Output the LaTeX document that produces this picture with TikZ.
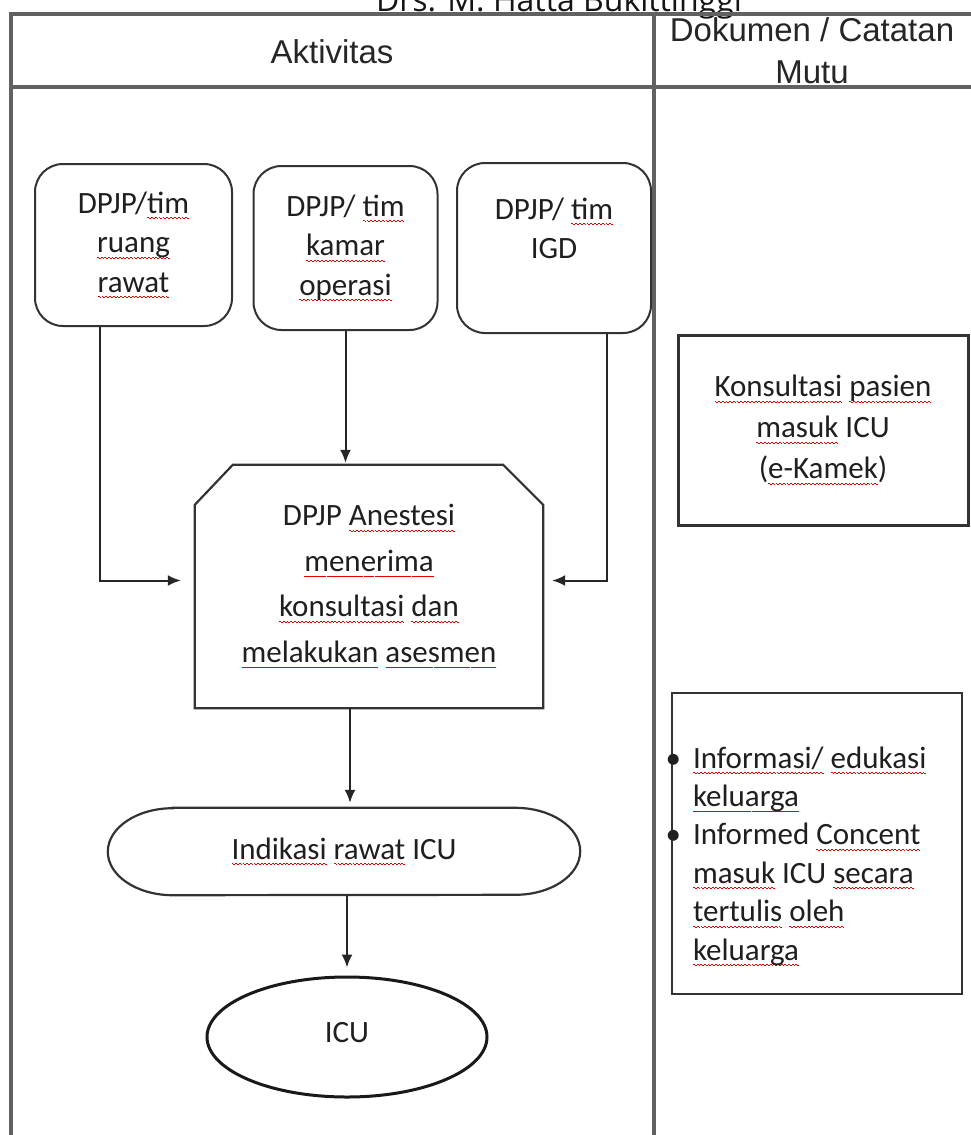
\documentclass[tikz,border=0pt]{standalone}
\usepackage{fontspec}
\setmainfont{Carlito}
\newfontfamily\arialf{Liberation Sans}
\newfontfamily\titlef{Open Sans}
\usetikzlibrary{arrows.meta,shapes.geometric}
\newcommand\sq[1]{\setbox0=\hbox{#1}\leavevmode\rlap{\raisebox{-6pt}{\color{red!90!black}\hbox to \wd0{\xleaders\hbox to 3.6pt{\vrule width 1.8pt height 1.9pt depth -0.8pt\vrule width 1.8pt height 1.1pt depth 0pt}\hfil}}}\box0\relax}
\newcommand\bul{\leavevmode\llap{\textbullet\hspace{12pt}}}
\begin{document}
\begin{tikzpicture}[x=1pt,y=-1pt,
  frame/.style={draw=black!62, line width=3.2pt},
  roundbox/.style={draw=black!80, line width=2pt, rounded corners=28pt, align=center,
    font=\fontsize{31}{39.5}\selectfont, text=black!88},
  shapeline/.style={draw=black!80, line width=2.2pt},
  arr/.style={draw=black!85, line width=2pt, -{Latex[length=13pt,width=11pt]}},
  txt/.style={font=\fontsize{31}{39}\selectfont, text=black!88, align=center},
  headtxt/.style={font=\arialf\fontsize{33}{42}\selectfont, text=black!85, align=center},
]
\clip (0,0) rectangle (971,1135);
\fill[white] (0,0) rectangle (971,1135);

% title (cut at the top)
\node[font=\titlef\fontsize{32}{38}\selectfont, anchor=base, text=black!92, inner sep=0] (title) at (559,11) {Drs. M. Hatta Bukittinggi};

% table frame
\draw[frame] (11,1140) -- (11,14) -- (980,14);
\draw[frame] (11,87) -- (980,87);
\draw[frame] (654,14) -- (654,1140);

% headers
\node[headtxt] (hA) at (332,52) {Aktivitas};
\node[headtxt] (hD) at (812,51) {Dokumen / Catatan\\Mutu};

% source boxes
\node[roundbox, minimum width=197, minimum height=162] (b1) at (133.5,245) {DPJP/\sq{tim}\\\sq{ruang}\\\sq{rawat}};
\node[roundbox, minimum width=184, minimum height=164] (b2) at (345.5,248) {DPJP/ \sq{tim}\\\sq{kamar}\\\sq{operasi}};
\node[roundbox, minimum width=194, minimum height=170] (b3) at (554,248) {DPJP/ \sq{tim}\\IGD\\\mbox{}};

% assessment (chamfered top)
\node[txt, font=\fontsize{31}{45.5}\selectfont, minimum width=348, minimum height=243, inner sep=0] (asm) at (369,586.5)
  {DPJP \sq{Anestesi}\\\sq{menerima}\\\sq{konsultasi} \sq{dan}\\\sq{melakukan} \sq{asesmen}};
\draw[shapeline] (asm.south west) -- ([yshift=-40pt]asm.north west) -- ([xshift=38pt]asm.north west)
  -- ([xshift=-40pt]asm.north east) -- ([yshift=-40pt]asm.north east) -- (asm.south east) -- cycle;

% indication (terminator)
\node[txt, minimum width=472, minimum height=87, inner sep=0] (ind) at (344,851.5) {\raisebox{-1pt}{\sq{Indikasi} \sq{rawat} ICU}};
\draw[shapeline] ([xshift=65pt]ind.north west) -- ([xshift=-65pt]ind.north east)
  arc[start angle=90, end angle=-90, x radius=65pt, y radius=43.5pt]
  -- ([xshift=65pt]ind.south west)
  arc[start angle=270, end angle=90, x radius=65pt, y radius=43.5pt] -- cycle;

% ICU
\node[txt, draw=black!90, ellipse, line width=3pt, minimum width=280, minimum height=120] (icu) at (347,1037) {\raisebox{9pt}{ICU}};

% connectors
\draw[arr] ([xshift=-33.5pt]b1.south) |- ([xshift=-14pt,yshift=6pt]asm.west);
\draw[arr] ([xshift=53pt]b3.south) |- ([xshift=9pt,yshift=6pt]asm.east);
\draw[arr, shorten >=2pt] (b2.south) -- (b2.south |- asm.north);
\draw[arr, shorten >=5pt] ([xshift=-19pt]asm.south) -- ([xshift=-19pt]asm.south |- ind.north);
\draw[arr, shorten >=8pt] (icu.north |- ind.south) -- (icu.north);

% documents column
\node[txt, draw=black!80, line width=3pt, minimum width=290, minimum height=190, font=\fontsize{31}{41}\selectfont] (kon) at (823,430)
  {\sq{Konsultasi} \sq{pasien}\\\sq{masuk} ICU\\(\sq{e-Kamek})};
\node[draw=black!80, line width=2.5pt, inner sep=0, text=black!88] (inf) at (817,843.5) {%
\begin{minipage}[c][301pt][t]{290pt}
\fontsize{31}{38.4}\selectfont\raggedright\leftskip=21pt\parindent=0pt
\rule{0pt}{75pt}\bul\sq{Informasi/} \sq{edukasi}\\
\sq{keluarga}\\
\bul Informed \sq{Concent}\\
\sq{masuk} ICU \sq{secara}\\
\sq{tertulis} \sq{oleh}\\
\sq{keluarga}
\end{minipage}};
\end{tikzpicture}
\end{document}
